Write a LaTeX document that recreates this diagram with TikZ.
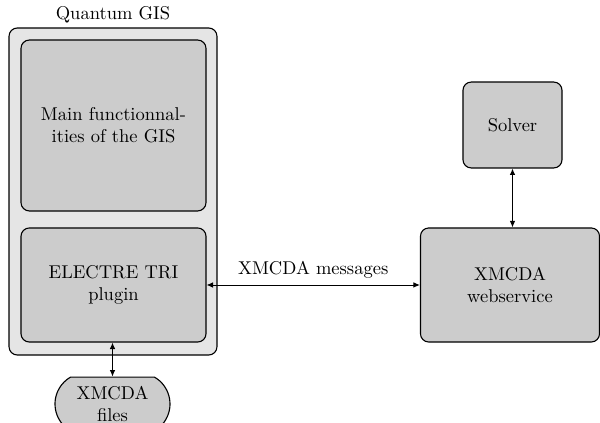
\documentclass[tikz,border=0pt]{standalone}
\usetikzlibrary{shapes.misc,arrows.meta}
\begin{document}
\begin{tikzpicture}[x=0.54pt,y=-0.54pt,
  outerbox/.style={draw, line width=0.6pt, fill=gray!20, rounded corners=4.5pt},
  innerbox/.style={draw, line width=0.6pt, fill=gray!40, rounded corners=4.5pt, align=center, inner sep=0pt},
  conn/.style={{Latex[length=3.5pt,width=3pt]}-{Latex[length=3.5pt,width=3pt]}, line width=0.5pt}]
\useasboundingbox (0,0) rectangle (600,423);
\node[outerbox, minimum width=112.3pt, minimum height=176.6pt] (qgis) at (113,191.5) {};
\node[anchor=base] (qlabel) at (113,20) {Quantum GIS};
\node[innerbox, minimum width=99.9pt, minimum height=92.3pt] (main) at (113.5,125.5) {Main functionnal-\\ities of the GIS};
\node[innerbox, minimum width=99.9pt, minimum height=61.6pt] (plugin) at (113.5,285) {ELECTRE TRI\\plugin};
\node[innerbox, minimum width=96.7pt, minimum height=61.6pt] (ws) at (510,285) {XMCDA\\webservice};
\node[innerbox, minimum width=53.5pt, minimum height=46.4pt] (solver) at (512.5,125) {Solver};
\node[draw, line width=0.6pt, fill=gray!40, rounded rectangle, rounded rectangle arc length=120, minimum width=62.1pt, minimum height=29pt, align=center, inner sep=0pt] (files) at (112.5,404) {XMCDA\\files};
\draw[conn] (plugin.east) -- (ws.west) node[midway, above] (msg) {XMCDA messages};
\draw[conn] (solver.south) -- (solver.south |- ws.north);
\draw[conn] (plugin.south -| files.north) -- (files.north);
\end{tikzpicture}
\end{document}
